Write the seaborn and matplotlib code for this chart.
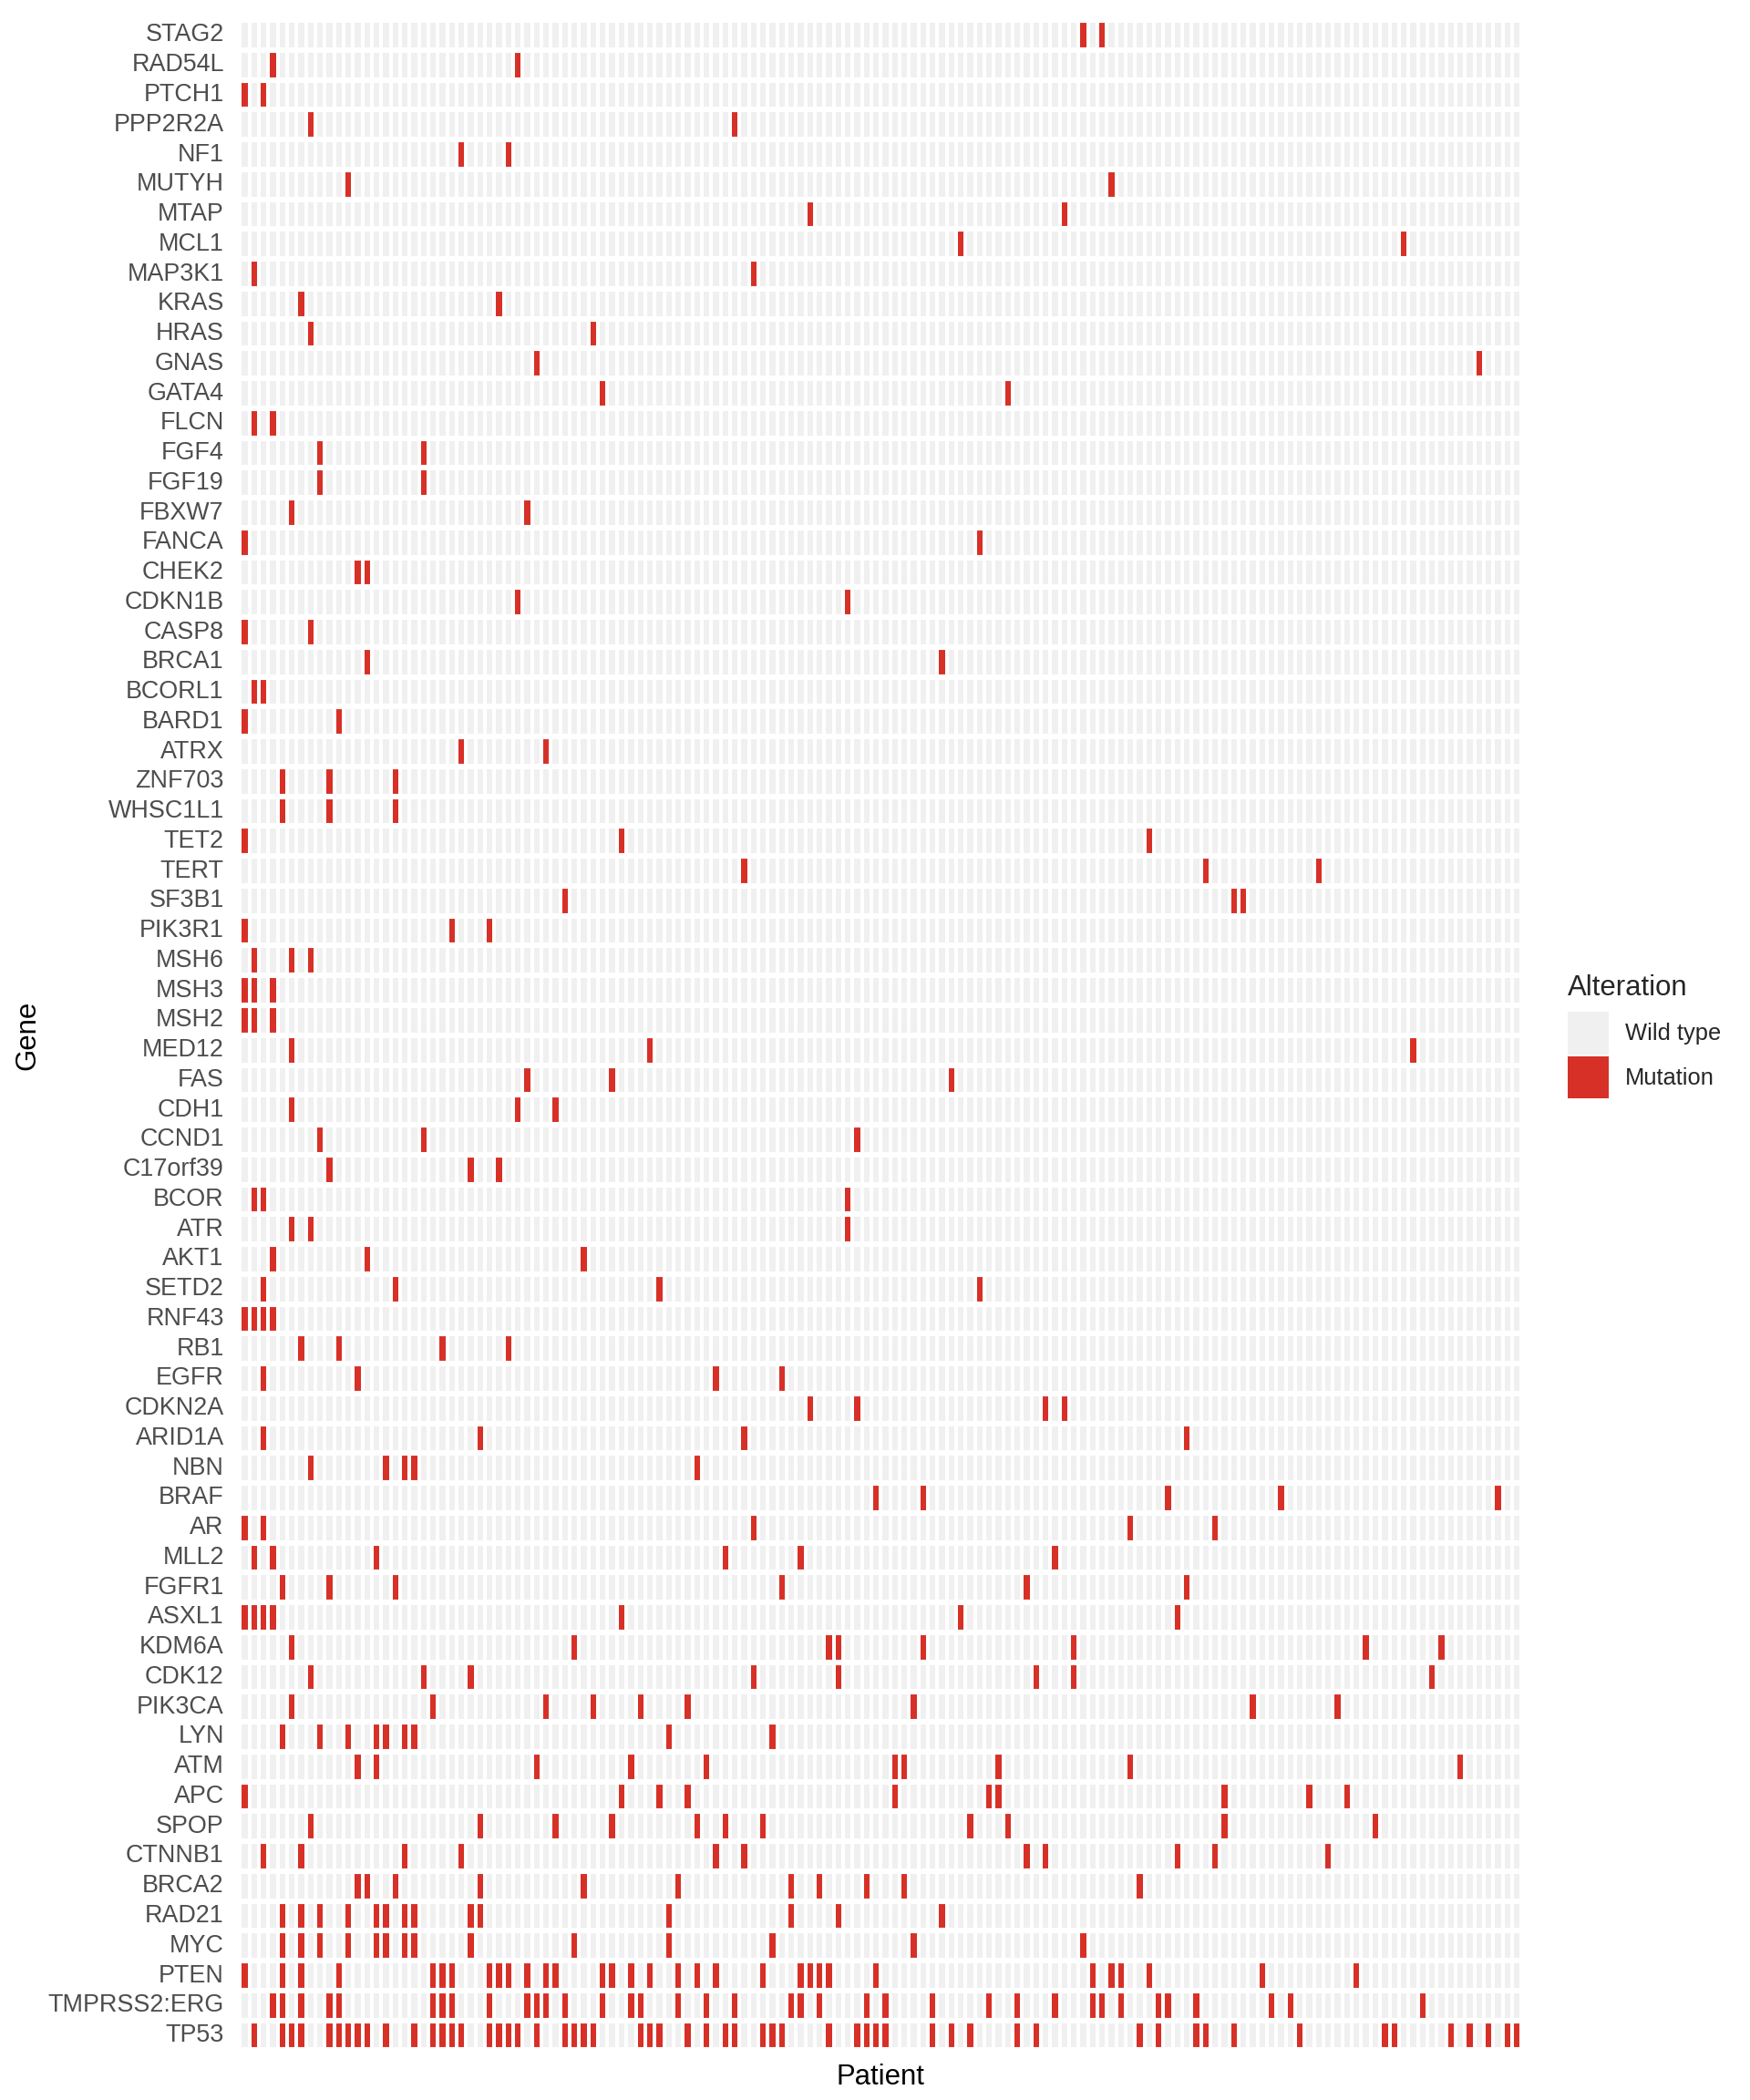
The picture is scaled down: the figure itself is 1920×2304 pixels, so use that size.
import numpy as np
import pandas as pd
import matplotlib
matplotlib.use("Agg")
import matplotlib.pyplot as plt
import seaborn as sns
from matplotlib.colors import ListedColormap
from matplotlib.patches import Patch

# patients are the columns (0..135), genes are the rows, top to bottom
n_patients = 136

genes = ["STAG2", "RAD54L", "PTCH1", "PPP2R2A", "NF1", "MUTYH", "MTAP", "MCL1",
         "MAP3K1", "KRAS", "HRAS", "GNAS", "GATA4", "FLCN", "FGF4", "FGF19",
         "FBXW7", "FANCA", "CHEK2", "CDKN1B", "CASP8", "BRCA1", "BCORL1", "BARD1",
         "ATRX", "ZNF703", "WHSC1L1", "TET2", "TERT", "SF3B1", "PIK3R1", "MSH6",
         "MSH3", "MSH2", "MED12", "FAS", "CDH1", "CCND1", "C17orf39", "BCOR",
         "ATR", "AKT1", "SETD2", "RNF43", "RB1", "EGFR", "CDKN2A", "ARID1A",
         "NBN", "BRAF", "AR", "MLL2", "FGFR1", "ASXL1", "KDM6A", "CDK12",
         "PIK3CA", "LYN", "ATM", "APC", "SPOP", "CTNNB1", "BRCA2", "RAD21",
         "MYC", "PTEN", "TMPRSS2:ERG", "TP53"]

# mutated patient indices, same order as genes
mutated = [
    [89, 91],                      # STAG2
    [3, 29],                       # RAD54L
    [0, 2],                        # PTCH1
    [7, 52],                       # PPP2R2A
    [23, 28],                      # NF1
    [11, 92],                      # MUTYH
    [60, 87],                      # MTAP
    [76, 123],                     # MCL1
    [1, 54],                       # MAP3K1
    [6, 27],                       # KRAS
    [7, 37],                       # HRAS
    [31, 131],                     # GNAS
    [38, 81],                      # GATA4
    [1, 3],                        # FLCN
    [8, 19],                       # FGF4
    [8, 19],                       # FGF19
    [5, 30],                       # FBXW7
    [0, 78],                       # FANCA
    [12, 13],                      # CHEK2
    [29, 64],                      # CDKN1B
    [0, 7],                        # CASP8
    [13, 74],                      # BRCA1
    [1, 2],                        # BCORL1
    [0, 10],                       # BARD1
    [23, 32],                      # ATRX
    [4, 9, 16],                    # ZNF703
    [4, 9, 16],                    # WHSC1L1
    [0, 40, 96],                   # TET2
    [53, 102, 114],                # TERT
    [34, 105, 106],                # SF3B1
    [0, 22, 26],                   # PIK3R1
    [1, 5, 7],                     # MSH6
    [0, 1, 3],                     # MSH3
    [0, 1, 3],                     # MSH2
    [5, 43, 124],                  # MED12
    [30, 39, 75],                  # FAS
    [5, 29, 33],                   # CDH1
    [8, 19, 65],                   # CCND1
    [9, 24, 27],                   # C17orf39
    [1, 2, 64],                    # BCOR
    [5, 7, 64],                    # ATR
    [3, 13, 36],                   # AKT1
    [2, 16, 44, 78],               # SETD2
    [0, 1, 2, 3],                  # RNF43
    [6, 10, 21, 28],               # RB1
    [2, 12, 50, 57],               # EGFR
    [60, 65, 85, 87],              # CDKN2A
    [2, 25, 53, 100],              # ARID1A
    [7, 15, 17, 18, 48],           # NBN
    [67, 72, 98, 110, 133],        # BRAF
    [0, 2, 54, 94, 103],           # AR
    [1, 3, 14, 51, 59, 86],        # MLL2
    [4, 9, 16, 57, 83, 100],       # FGFR1
    [0, 1, 2, 3, 40, 76, 99],      # ASXL1
    [5, 35, 62, 63, 72, 88, 119, 127],   # KDM6A
    [7, 19, 24, 54, 63, 84, 88, 126],    # CDK12
    [5, 20, 32, 37, 42, 47, 71, 107, 116],   # PIK3CA
    [4, 8, 11, 14, 15, 17, 18, 45, 56],      # LYN
    [12, 14, 31, 41, 49, 69, 70, 80, 94, 129],   # ATM
    [0, 40, 44, 47, 69, 79, 80, 104, 113, 117],  # APC
    [7, 25, 33, 39, 48, 51, 55, 77, 81, 104, 120],   # SPOP
    [2, 6, 17, 23, 50, 53, 83, 85, 99, 103, 115],    # CTNNB1
    [12, 13, 16, 25, 36, 46, 58, 61, 66, 70, 95],    # BRCA2
    [4, 6, 8, 11, 14, 15, 17, 18, 24, 25, 45, 58, 63, 74],   # RAD21
    [4, 6, 8, 11, 14, 15, 17, 18, 24, 35, 45, 56, 71, 89],   # MYC
    [0, 4, 6, 10, 20, 21, 22, 26, 27, 28, 30, 32, 33, 38, 39, 41, 43, 46,
     48, 50, 55, 59, 60, 61, 62, 67, 90, 92, 93, 96, 108, 118],   # PTEN
    [3, 4, 6, 9, 10, 20, 21, 22, 26, 30, 31, 32, 34, 38, 41, 42, 46, 49,
     52, 58, 59, 61, 66, 68, 73, 79, 82, 86, 90, 91, 93, 97, 98, 101,
     109, 111, 125],               # TMPRSS2:ERG
    [1, 4, 5, 6, 9, 10, 11, 12, 13, 15, 18, 20, 21, 22, 23, 26, 27, 28,
     29, 31, 34, 35, 36, 37, 42, 43, 44, 47, 49, 51, 52, 55, 56, 57, 62,
     65, 66, 67, 68, 73, 75, 77, 82, 84, 95, 97, 101, 102, 105, 112, 121,
     122, 128, 130, 132, 134, 135],  # TP53
]

alteration_labels = ["Wild type", "Mutation"]
alteration_colors = ["#F0F0F0", "#D73027"]

# 0 = wild type, 1 = mutation
mat = pd.DataFrame(0, index=genes, columns=range(n_patients))
for g, cols in zip(genes, mutated):
    mat.loc[g, cols] = 1

sns.set_theme(style="white")
plt.rcParams["font.family"] = ["Liberation Sans", "DejaVu Sans"]

fig = plt.figure(figsize=(9.6, 11.52), dpi=200)
ax = fig.add_axes([0.13715, 0.0237, 0.73224, 0.9667])

sns.heatmap(mat, cmap=ListedColormap(alteration_colors), vmin=0, vmax=1,
            cbar=False, linewidths=0.85, linecolor="white",
            xticklabels=False, yticklabels=True, ax=ax)
# taller white gaps between gene rows (tiles are ~0.7 wide, ~0.8 high)
ax.hlines(np.arange(len(genes) + 1), 0, n_patients, color="white", lw=2.2)

ax.set_yticklabels(genes, rotation=0, fontsize=9.7, color="#4D4D4D")
ax.tick_params(axis="y", length=0, pad=6.3)
ax.tick_params(axis="x", length=0)

ax.set_xlabel("Patient", fontsize=11.2, color="black")
ax.xaxis.set_label_coords(0.5, -0.0064)
ax.set_ylabel("Gene", fontsize=11.2, color="black")
ax.yaxis.set_label_coords(-0.1553, 0.5)
for s in ax.spines.values():
    s.set_visible(False)

handles = [Patch(facecolor=c, edgecolor="none", label=l)
           for c, l in zip(alteration_colors, alteration_labels)]
leg = fig.legend(handles=handles, title="Alteration", loc="upper left",
                 bbox_to_anchor=(1720 / 1920, 1 - 1069 / 2304),
                 frameon=False, fontsize=9.2, title_fontsize=11.2,
                 handlelength=1.75, handleheight=2.42, handletextpad=0.7,
                 labelspacing=0.08, borderpad=0, borderaxespad=0,
                 alignment="left")
leg._legend_box.sep = 4

fig.savefig("out.png", dpi=200, facecolor="white")
